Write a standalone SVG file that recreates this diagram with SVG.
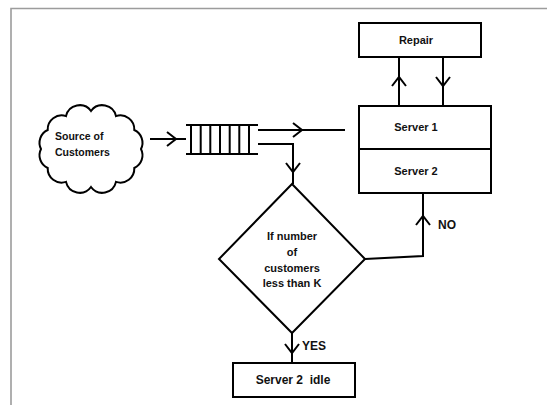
<svg xmlns="http://www.w3.org/2000/svg" width="547" height="405" viewBox="0 0 547 405">
  <style>
    .frame { fill: none; stroke: #9c9c9c; stroke-width: 1.6; }
    .shape { fill: #ffffff; stroke: #000000; stroke-width: 2; }
    .line { fill: none; stroke: #000000; stroke-width: 2; }
    .chev { fill: none; stroke: #000000; stroke-width: 2; stroke-linejoin: miter; }
    text { font-family: "Liberation Sans", Arial, sans-serif; font-weight: bold; fill: #111111; }
    .lbl { font-size: 11px; text-anchor: middle; }
    .src { font-size: 10.5px; }
    .tag { font-size: 12px; }
    .big { font-size: 12px; text-anchor: middle; white-space: pre; }
  </style>
  <defs>
    <!-- open chevron arrowhead, tip at origin, pointing along +x -->
    <path id="chev" class="chev" d="M-9,-7 L0,0 L-9,7"/>
  </defs>

  <rect width="547" height="405" fill="#ffffff"/>
  <!-- page frame -->
  <path class="frame" d="M11,405 V8.5 H547"/>

  <g id="source">
    <path class="shape" d="M141,149 A14,14 0 0 1 134.3,168 A14,14 0 0 1 116,181.9 A14,14 0 0 1 91,187 A14,14 0 0 1 66,181.9 A14,14 0 0 1 47.7,168 A14,14 0 0 1 41,149 A14,14 0 0 1 47.7,130 A14,14 0 0 1 66,116.1 A14,14 0 0 1 91,111 A14,14 0 0 1 116,116.1 A14,14 0 0 1 134.3,130 A14,14 0 0 1 141,149 Z"/>
    <text class="src" x="55" y="140">Source of</text>
    <text class="src" x="55" y="156">Customers</text>
  </g>

  <g id="queue">
    <path class="line" d="M186,125 H258 M186,154 H258 M191,125 V154 M200.7,125 V154 M210.3,125 V154 M220,125 V154 M229.7,125 V154 M239.3,125 V154 M249,125 V154"/>
  </g>

  <g id="repair">
    <rect class="shape" x="359" y="23" width="122" height="34"/>
    <text class="lbl" x="416" y="44">Repair</text>
  </g>

  <g id="servers">
    <rect class="shape" x="359" y="106" width="132" height="87"/>
    <path class="line" d="M359,149 H491"/>
    <text class="lbl" x="416" y="131">Server 1</text>
    <text class="lbl" x="416" y="175">Server 2</text>
  </g>

  <g id="decision">
    <path class="shape" d="M292,184 L365,259 L292,333 L219,259 Z"/>
    <text class="lbl" x="292" y="240">If number</text>
    <text class="lbl" x="292" y="256">of</text>
    <text class="lbl" x="292" y="272">customers</text>
    <text class="lbl" x="292" y="287">less than K</text>
  </g>

  <g id="idle">
    <rect class="shape" x="233" y="363" width="122" height="34"/>
    <text class="big" x="293" y="384">Server 2  idle</text>
  </g>

  <g id="connectors">
    <path class="line" d="M150,139 H186"/>
    <use href="#chev" transform="translate(176,139)"/>

    <path class="line" d="M258,130 H345"/>
    <use href="#chev" transform="translate(302,130)"/>

    <path class="line" d="M258,144 H293 V184"/>
    <use href="#chev" transform="translate(293,172) rotate(90)"/>

    <path class="line" d="M365,259 L423,256 V193"/>
    <use href="#chev" transform="translate(423,216) rotate(-90)"/>
    <text class="tag" x="438" y="229">NO</text>

    <path class="line" d="M399,106 V57"/>
    <use href="#chev" transform="translate(399,77) rotate(-90)"/>

    <path class="line" d="M443,57 V106"/>
    <use href="#chev" transform="translate(443,86) rotate(90)"/>

    <path class="line" d="M292,333 V363"/>
    <use href="#chev" transform="translate(292,353) rotate(90)"/>
    <text class="tag" x="302" y="350">YES</text>
  </g>
</svg>
